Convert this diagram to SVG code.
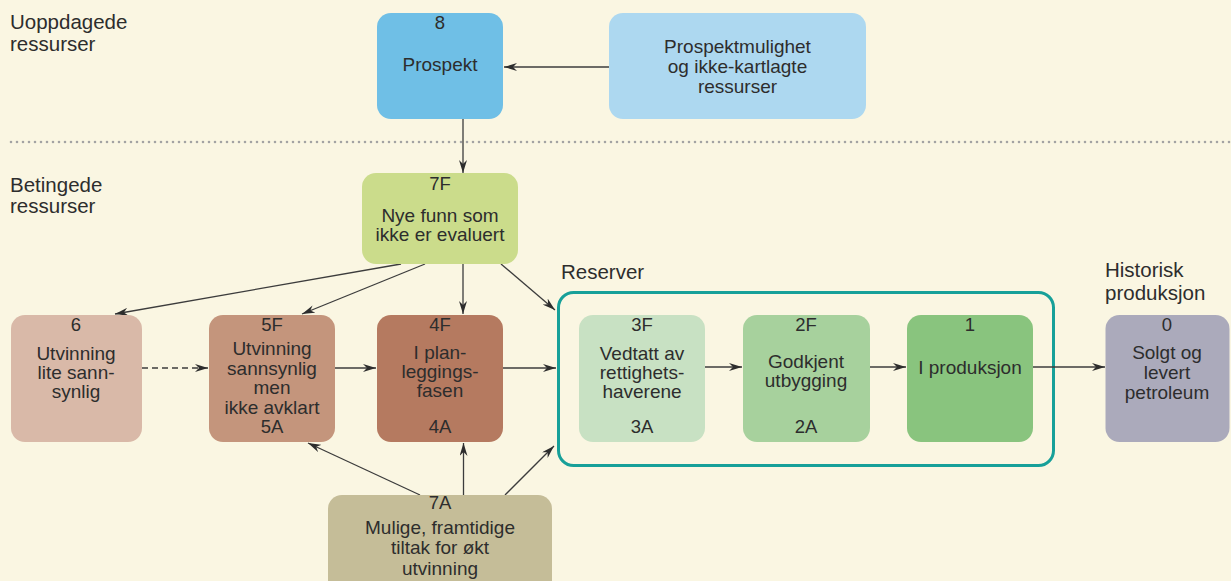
<svg xmlns="http://www.w3.org/2000/svg" width="1231" height="581" viewBox="0 0 1231 581">
<defs>
<style>
.t{font-family:"Liberation Sans",Arial,sans-serif;font-size:19px;fill:#2d2d2d;text-anchor:middle}
.n{font-family:"Liberation Sans",Arial,sans-serif;font-size:18.5px;fill:#2d2d2d;text-anchor:middle}
.s{font-family:"Liberation Sans",Arial,sans-serif;font-size:20.5px;fill:#2d2d2d}
.c{stroke:#3c3c3c;stroke-width:1.3;fill:none;marker-end:url(#ah)}
.d{stroke-dasharray:6 4}
</style>
<marker id="ah" markerUnits="userSpaceOnUse" markerWidth="14" markerHeight="8" refX="13" refY="4" orient="auto">
<path d="M0,0 L13,4 L0,8 L4,4 Z" fill="#2d2d2d"/>
</marker>
</defs>
<rect width="1231" height="581" fill="#faf6e2"/>
<line x1="11" y1="142" x2="1231" y2="142" stroke="#a3a3a3" stroke-width="2.6" stroke-linecap="round" stroke-dasharray="0 6"/>

<g id="section-labels">
<text class="s" x="10" y="29">Uoppdagede</text>
<text class="s" x="10" y="51">ressurser</text>
<text class="s" x="10" y="192">Betingede</text>
<text class="s" x="10" y="213">ressurser</text>
<text class="s" x="561" y="279">Reserver</text>
<text class="s" x="1105" y="277">Historisk</text>
<text class="s" x="1105" y="300">produksjon</text>
</g>

<g id="reserver-frame">
<rect x="558.5" y="292.5" width="495" height="173" rx="15" fill="none" stroke="#17a099" stroke-width="3"/>
</g>

<g id="connectors">
<line class="c" x1="609" y1="67" x2="504" y2="67"/>
<line class="c" x1="463" y1="119" x2="463" y2="173"/>
<line class="c" x1="401" y1="264" x2="115" y2="314"/>
<line class="c" x1="425" y1="264" x2="302" y2="314"/>
<line class="c" x1="463" y1="264" x2="463" y2="314"/>
<line class="c" x1="501" y1="264" x2="555" y2="310"/>
<line class="c d" x1="142" y1="368" x2="208" y2="368"/>
<line class="c" x1="335" y1="368" x2="376" y2="368"/>
<line class="c" x1="503" y1="368" x2="556" y2="368"/>
<line class="c" x1="705" y1="367" x2="742" y2="367"/>
<line class="c" x1="870" y1="367" x2="906" y2="367"/>
<line class="c" x1="1033" y1="367" x2="1105" y2="367"/>
<line class="c" x1="420" y1="495" x2="308" y2="443"/>
<line class="c" x1="463.5" y1="495" x2="463.5" y2="443"/>
<line class="c" x1="505" y1="495" x2="554" y2="446"/>
</g>

<g id="n8">
<rect x="377" y="13" width="126" height="106" rx="14" fill="#6fbfe6"/>
<text class="n" x="440" y="29">8</text>
<text class="t" x="440" y="71">Prospekt</text>
</g>
<g id="nPM">
<rect x="609" y="13" width="257" height="106" rx="14" fill="#add8f0"/>
<text class="t" x="737.5" y="53">Prospektmulighet</text>
<text class="t" x="737.5" y="73">og ikke-kartlagte</text>
<text class="t" x="737.5" y="93">ressurser</text>
</g>
<g id="n7F">
<rect x="362" y="173" width="156" height="91" rx="14" fill="#cbdc8b"/>
<text class="n" x="440" y="190">7F</text>
<text class="t" x="440" y="222">Nye funn som</text>
<text class="t" x="440" y="241">ikke er evaluert</text>
</g>
<g id="n6">
<rect x="11" y="315" width="131" height="127" rx="14" fill="#d9b9a8"/>
<text class="n" x="76" y="331">6</text>
<text class="t" x="76" y="360">Utvinning</text>
<text class="t" x="76" y="379">lite sann-</text>
<text class="t" x="76" y="398">synlig</text>
</g>
<g id="n5">
<rect x="209" y="315" width="126" height="127" rx="14" fill="#c4957c"/>
<text class="n" x="272" y="331">5F</text>
<text class="t" x="272" y="355">Utvinning</text>
<text class="t" x="272" y="374.5">sannsynlig</text>
<text class="t" x="272" y="394">men</text>
<text class="t" x="272" y="413.5">ikke avklart</text>
<text class="n" x="272" y="433">5A</text>
</g>
<g id="n4">
<rect x="377" y="315" width="126" height="127" rx="14" fill="#b57a60"/>
<text class="n" x="440" y="331">4F</text>
<text class="t" x="440" y="359">I plan-</text>
<text class="t" x="440" y="378">leggings-</text>
<text class="t" x="440" y="397">fasen</text>
<text class="n" x="440" y="433">4A</text>
</g>
<g id="n3">
<rect x="579" y="315" width="126" height="127" rx="14" fill="#c8e1c3"/>
<text class="n" x="642" y="331">3F</text>
<text class="t" x="642" y="360">Vedtatt av</text>
<text class="t" x="642" y="379">rettighets-</text>
<text class="t" x="642" y="398">haverene</text>
<text class="n" x="642" y="433">3A</text>
</g>
<g id="n2">
<rect x="743" y="315" width="127" height="127" rx="14" fill="#a7d19d"/>
<text class="n" x="806" y="331">2F</text>
<text class="t" x="806" y="368">Godkjent</text>
<text class="t" x="806" y="387">utbygging</text>
<text class="n" x="806" y="433">2A</text>
</g>
<g id="n1">
<rect x="907" y="315" width="126" height="127" rx="14" fill="#89c47e"/>
<text class="n" x="970" y="331">1</text>
<text class="t" x="970" y="374">I produksjon</text>
</g>
<g id="n0">
<rect x="1105.5" y="315" width="124" height="127" rx="14" fill="#abaabb"/>
<text class="n" x="1167" y="331">0</text>
<text class="t" x="1167" y="359">Solgt og</text>
<text class="t" x="1167" y="379">levert</text>
<text class="t" x="1167" y="398.5">petroleum</text>
</g>
<g id="n7A">
<rect x="328" y="495" width="224" height="100" rx="14" fill="#c5bd98"/>
<text class="n" x="440" y="509">7A</text>
<text class="t" x="440" y="534">Mulige, framtidige</text>
<text class="t" x="440" y="554">tiltak for økt</text>
<text class="t" x="440" y="575">utvinning</text>
</g>
</svg>
